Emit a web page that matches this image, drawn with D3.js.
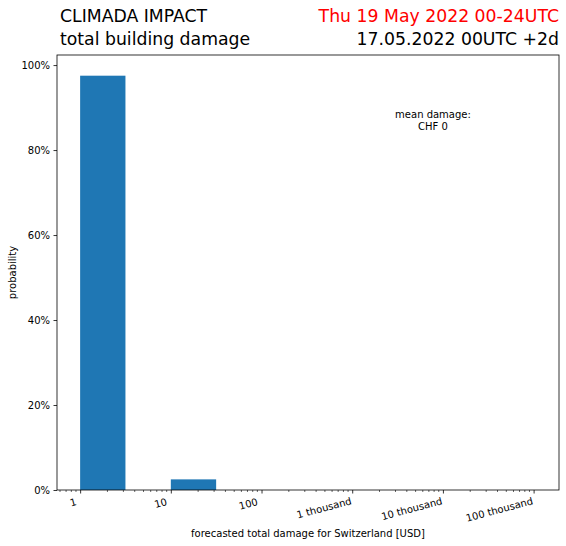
<!DOCTYPE html>
<html>
<head>
<meta charset="utf-8">
<script src="https://cdn.jsdelivr.net/npm/d3@7"></script>
<style>
  body { margin: 0; background: #fff; }
  text { font-family: "DejaVu Sans", sans-serif; }
  .xtick { white-space: pre; }
</style>
</head>
<body>
<svg id="chart"></svg>
<script>
// histogram bins (damage in USD, log spaced) and their probability
const binLow = [1, 10];
const binHigh = [3.16, 31.6];
const probability = [0.975, 0.025];

// labels are "<number> <unit>", unit empty below a thousand
const xTickValues = [1, 10, 100, 1000, 10000, 100000];
const xTickLabels = ["1 ", "10 ", "100 ", "1 thousand", "10 thousand", "100 thousand"];
const yTickValues = [0, 0.2, 0.4, 0.6, 0.8, 1.0];

const width = 566;
const height = 546;
const margin = { top: 55, right: 7, bottom: 56, left: 57 };

const svg = d3.select("#chart")
  .attr("width", width)
  .attr("height", height);

// log x-scale, matplotlib-like 5% margins
const xScale = d3.scaleLog()
  .domain([Math.pow(10, -0.255), Math.pow(10, 5.28)])
  .range([margin.left, width - margin.right]);

const yScale = d3.scaleLinear()
  .domain([0, 1.0237])
  .range([height - margin.bottom, margin.top]);

// bars
svg.append("g")
  .selectAll("rect")
  .data(probability)
  .join("rect")
  .attr("x", (d, i) => xScale(binLow[i]))
  .attr("width", (d, i) => xScale(binHigh[i]) - xScale(binLow[i]))
  .attr("y", d => yScale(d))
  .attr("height", d => yScale(0) - yScale(d))
  .attr("fill", "#1f77b4");

// x-axis major ticks
const xAxis = d3.axisBottom(xScale)
  .tickValues(xTickValues)
  .tickSize(3.5)
  .tickSizeOuter(0)
  .tickFormat("");
const xAxisG = svg.append("g")
  .attr("transform", `translate(0,${height - margin.bottom})`)
  .call(xAxis);
xAxisG.select(".domain").remove();
xAxisG.selectAll("line").attr("stroke", "#000").attr("stroke-width", 0.8);

// minor ticks
const [d0, d1] = xScale.domain();
const minor = [];
for (let e = -1; e <= 5; e++) {
  for (let m = 2; m <= 9; m++) {
    const v = m * Math.pow(10, e);
    if (v >= d0 && v <= d1) minor.push(v);
  }
}
svg.append("g")
  .selectAll("line")
  .data(minor)
  .join("line")
  .attr("x1", d => xScale(d))
  .attr("x2", d => xScale(d))
  .attr("y1", height - margin.bottom)
  .attr("y2", height - margin.bottom + 2)
  .attr("stroke", "#000")
  .attr("stroke-width", 0.6);

// rotated x tick labels
svg.append("g")
  .selectAll("text")
  .data(xTickValues)
  .join("text")
  .attr("class", "xtick")
  .attr("transform", d => `translate(${xScale(d)},${height - margin.bottom + 14}) rotate(-15)`)
  .attr("text-anchor", "end")
  .attr("font-size", 10)
  .text((d, i) => xTickLabels[i]);

// y-axis
const yAxis = d3.axisLeft(yScale)
  .tickValues(yTickValues)
  .tickSize(3.5)
  .tickSizeOuter(0)
  .tickPadding(3.5)
  .tickFormat(d3.format(".0%"));
const yAxisG = svg.append("g")
  .attr("transform", `translate(${margin.left},0)`)
  .call(yAxis);
yAxisG.select(".domain").remove();
yAxisG.selectAll("line").attr("stroke", "#000").attr("stroke-width", 0.8);
yAxisG.selectAll("text")
  .attr("font-size", 10)
  .attr("font-family", "DejaVu Sans, sans-serif")
  .attr("fill", "#000");

// frame
svg.append("rect")
  .attr("x", margin.left)
  .attr("y", margin.top)
  .attr("width", width - margin.left - margin.right)
  .attr("height", height - margin.top - margin.bottom)
  .attr("fill", "none")
  .attr("stroke", "#000")
  .attr("stroke-width", 0.8);

// axis labels
svg.append("text")
  .attr("x", (margin.left + width - margin.right) / 2)
  .attr("y", 537)
  .attr("text-anchor", "middle")
  .attr("font-size", 10)
  .text("forecasted total damage for Switzerland [USD]");

svg.append("text")
  .attr("transform", `translate(15.5,${(margin.top + height - margin.bottom) / 2}) rotate(-90)`)
  .attr("text-anchor", "middle")
  .attr("font-size", 10)
  .text("probability");

// mean damage annotation
const note = svg.append("text")
  .attr("x", 433)
  .attr("y", 118)
  .attr("text-anchor", "middle")
  .attr("font-size", 10);
note.append("tspan").attr("x", 433).text("mean damage:");
note.append("tspan").attr("x", 433).attr("dy", 12).text("CHF 0");

// titles
const titleSize = 17.28;
svg.append("text").attr("x", 60).attr("y", 22).attr("font-size", titleSize).text("CLIMADA IMPACT");
svg.append("text").attr("x", 60).attr("y", 45).attr("font-size", titleSize).text("total building damage");
svg.append("text").attr("x", 559).attr("y", 22).attr("font-size", titleSize)
  .attr("text-anchor", "end").attr("fill", "red").text("Thu 19 May 2022 00-24UTC");
svg.append("text").attr("x", 559).attr("y", 45).attr("font-size", titleSize)
  .attr("text-anchor", "end").text("17.05.2022 00UTC +2d");
</script>
</body>
</html>
